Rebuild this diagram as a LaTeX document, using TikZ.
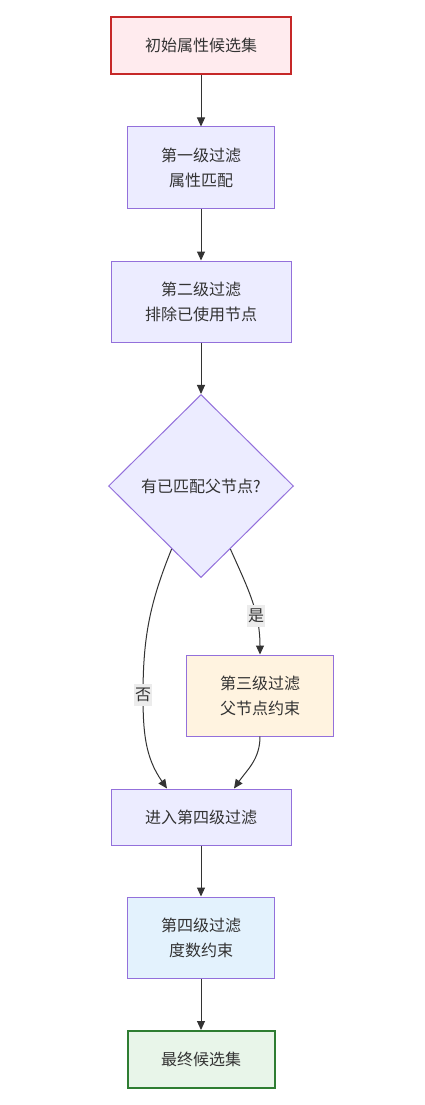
\documentclass[tikz,border=0pt]{standalone}
\usepackage{fontspec}
\setmainfont{Noto Sans CJK SC}
\usepackage{xcolor}
\usetikzlibrary{positioning,shapes.geometric,arrows.meta}
\definecolor{txt}{HTML}{333333}
\definecolor{boxfill}{HTML}{ECECFF}
\definecolor{boxline}{HTML}{9370DB}
\definecolor{startfill}{HTML}{FFEBEE}
\definecolor{startline}{HTML}{C62828}
\definecolor{parentfill}{HTML}{FFF3E0}
\definecolor{degreefill}{HTML}{E3F2FD}
\definecolor{finalfill}{HTML}{E8F5E9}
\definecolor{finalline}{HTML}{2E7D32}
\tikzset{box node/.style={rectangle,fill=boxfill,draw=boxline,line width=1pt,text=txt,
    minimum width=147pt,minimum height=81pt,inner sep=0pt,align=center,font=\fontsize{16}{25}\selectfont},
  wide node/.style={box node,minimum width=180pt},
  arr/.style={-{Triangle[length=9pt,width=8pt]},line width=1pt,draw=txt},
  lbl/.style={fill=gray!15,text=txt,inner xsep=1pt,inner ysep=4pt,font=\fontsize{16}{18}\selectfont}}

\begin{document}
\begin{tikzpicture}[on grid]
      \useasboundingbox[fill=white] (0,0) rectangle (425pt,-1105pt);
      \node[wide node,minimum height=57pt,fill=startfill,draw=startline,line width=2pt] (start) at (201pt,-45.5pt) {初始属性候选集};
      \node[box node] (f1) [below = 122pt of start] {第一级过滤\\属性匹配};
      \node[wide node] (f2) [below = 134pt of f1] {第二级过滤\\排除已使用节点};
      \node[box node,shape=diamond,minimum width=185pt,minimum height=183pt] (dec) [below = 184.5pt of f2] {有已匹配父节点?};
      \node[box node,fill=parentfill] (f3) [below right = 209.5pt and 59pt of dec] {第三级过滤\\父节点约束};
      \node[wide node,minimum height=56pt] (enter) [below = 331pt of dec] {进入第四级过滤};
      \node[box node,fill=degreefill] (f4) [below = 120.5pt of enter] {第四级过滤\\度数约束};
      \node[box node,minimum height=57pt,fill=finalfill,draw=finalline,line width=2pt] (final) [below = 122pt of f4] {最终候选集};
      \coordinate (nomid) at (143pt,-695pt);
      \draw[arr] (start) -- (f1);
      \draw[arr] (f1) -- (f2);
      \draw[arr] (f2) -- (dec);
      \draw[arr] (dec.295) to[out=-66,in=90] node[lbl,pos=0.66] {是} (f3.north);
      \draw[arr] (dec.245) to[out=-112,in=90] (nomid) node[lbl] {否} to[out=-90,in=125] ([xshift=-34pt]enter.north);
      \draw[arr] (f3.south) to[out=-90,in=55] ([xshift=33pt]enter.north);
      \draw[arr] (enter) -- (f4);
      \draw[arr] (f4) -- (final);
    \end{tikzpicture}
\end{document}
